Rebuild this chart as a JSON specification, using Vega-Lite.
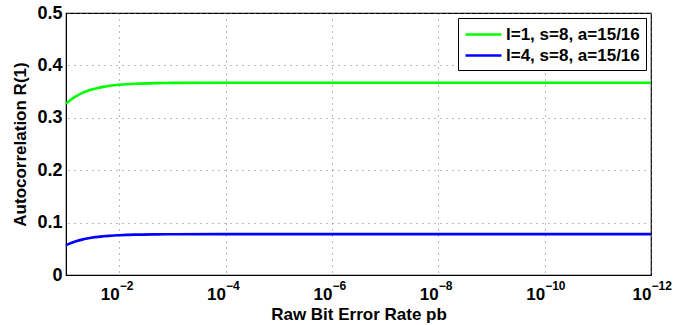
{
  "$schema": "https://vega.github.io/schema/vega-lite/v6.json",
  "width": 585,
  "height": 262,
  "autosize": {"type": "none"},
  "padding": {"left": 66, "top": 13, "right": 46, "bottom": 50},
  "background": "white",
  "config": {
    "view": {"stroke": "black", "strokeWidth": 1.2},
    "font": "Liberation Sans"
  },
  "data": {
    "values": [
      {"p": 0.1, "R": 0.327, "s": "l=1, s=8, a=15/16"},
      {"p": 0.08, "R": 0.335, "s": "l=1, s=8, a=15/16"},
      {"p": 0.063, "R": 0.3418, "s": "l=1, s=8, a=15/16"},
      {"p": 0.05, "R": 0.347, "s": "l=1, s=8, a=15/16"},
      {"p": 0.04, "R": 0.351, "s": "l=1, s=8, a=15/16"},
      {"p": 0.0316, "R": 0.3544, "s": "l=1, s=8, a=15/16"},
      {"p": 0.025, "R": 0.357, "s": "l=1, s=8, a=15/16"},
      {"p": 0.02, "R": 0.359, "s": "l=1, s=8, a=15/16"},
      {"p": 0.0158, "R": 0.3607, "s": "l=1, s=8, a=15/16"},
      {"p": 0.0126, "R": 0.362, "s": "l=1, s=8, a=15/16"},
      {"p": 0.01, "R": 0.363, "s": "l=1, s=8, a=15/16"},
      {"p": 0.005, "R": 0.365, "s": "l=1, s=8, a=15/16"},
      {"p": 0.002, "R": 0.3662, "s": "l=1, s=8, a=15/16"},
      {"p": 0.001, "R": 0.3666, "s": "l=1, s=8, a=15/16"},
      {"p": 0.0001, "R": 0.367, "s": "l=1, s=8, a=15/16"},
      {"p": 1e-6, "R": 0.367, "s": "l=1, s=8, a=15/16"},
      {"p": 1e-8, "R": 0.367, "s": "l=1, s=8, a=15/16"},
      {"p": 1e-10, "R": 0.367, "s": "l=1, s=8, a=15/16"},
      {"p": 1e-12, "R": 0.367, "s": "l=1, s=8, a=15/16"},
      {"p": 0.1, "R": 0.057, "s": "l=4, s=8, a=15/16"},
      {"p": 0.08, "R": 0.0612, "s": "l=4, s=8, a=15/16"},
      {"p": 0.063, "R": 0.0648, "s": "l=4, s=8, a=15/16"},
      {"p": 0.05, "R": 0.0675, "s": "l=4, s=8, a=15/16"},
      {"p": 0.04, "R": 0.0696, "s": "l=4, s=8, a=15/16"},
      {"p": 0.0316, "R": 0.0714, "s": "l=4, s=8, a=15/16"},
      {"p": 0.025, "R": 0.0728, "s": "l=4, s=8, a=15/16"},
      {"p": 0.02, "R": 0.0738, "s": "l=4, s=8, a=15/16"},
      {"p": 0.0158, "R": 0.0747, "s": "l=4, s=8, a=15/16"},
      {"p": 0.0126, "R": 0.0754, "s": "l=4, s=8, a=15/16"},
      {"p": 0.01, "R": 0.0759, "s": "l=4, s=8, a=15/16"},
      {"p": 0.005, "R": 0.077, "s": "l=4, s=8, a=15/16"},
      {"p": 0.002, "R": 0.0776, "s": "l=4, s=8, a=15/16"},
      {"p": 0.001, "R": 0.0778, "s": "l=4, s=8, a=15/16"},
      {"p": 0.0001, "R": 0.078, "s": "l=4, s=8, a=15/16"},
      {"p": 1e-6, "R": 0.078, "s": "l=4, s=8, a=15/16"},
      {"p": 1e-8, "R": 0.078, "s": "l=4, s=8, a=15/16"},
      {"p": 1e-10, "R": 0.078, "s": "l=4, s=8, a=15/16"},
      {"p": 1e-12, "R": 0.078, "s": "l=4, s=8, a=15/16"}
    ]
  },
  "resolve": {"axis": {"x": "independent"}},
  "layer": [
    {
      "mark": {"type": "line", "strokeWidth": 2.6, "interpolate": "monotone"},
      "encoding": {
        "x": {
          "field": "p",
          "type": "quantitative",
          "scale": {"type": "log", "domain": [1e-12, 0.1], "reverse": true, "nice": false},
          "axis": {
            "orient": "bottom",
            "title": "Raw Bit Error Rate  pb",
            "titleFont": "Liberation Sans",
            "titleFontSize": 17,
            "titleFontWeight": "bold",
            "titleColor": "black",
            "titlePadding": 4,
            "values": [0.01, 0.0001, 1e-6, 1e-8, 1e-10, 1e-12],
            "labelExpr": "'10'",
            "labelFont": "Liberation Sans",
            "labelFontSize": 17,
            "labelFontWeight": "bold",
            "labelColor": "black",
            "labelAlign": "right",
            "labelPadding": 11,
            "labelDx": 2,
            "labelFlush": false,
            "labelOverlap": false,
            "ticks": false,
            "domainColor": "black",
            "grid": true,
            "gridColor": "#777777",
            "gridDash": [1, 5],
            "gridWidth": 1
          }
        },
        "y": {
          "field": "R",
          "type": "quantitative",
          "scale": {"domain": [0, 0.5], "nice": false},
          "axis": {
            "title": "Autocorrelation  R(1)",
            "titleFont": "Liberation Sans",
            "titleFontSize": 17,
            "titleFontWeight": "bold",
            "titleColor": "black",
            "titlePadding": 7,
            "values": [0, 0.1, 0.2, 0.3, 0.4, 0.5],
            "labelExpr": "datum.value == 0 ? '0' : format(datum.value, '.1f')",
            "labelFont": "Liberation Sans",
            "labelFontSize": 18,
            "labelFontWeight": "bold",
            "labelColor": "black",
            "labelPadding": 4,
            "labelFlush": false,
            "ticks": false,
            "domainColor": "black",
            "grid": true,
            "gridColor": "#777777",
            "gridDash": [1, 5],
            "gridWidth": 1
          }
        },
        "color": {
          "field": "s",
          "type": "nominal",
          "scale": {"domain": ["l=1, s=8, a=15/16", "l=4, s=8, a=15/16"], "range": ["#00FF00", "#0000FF"]},
          "legend": {
            "title": null,
            "orient": "top-right",
            "offset": 5,
            "fillColor": "white",
            "strokeColor": "black",
            "padding": 6,
            "symbolType": "M-1,0H3",
            "symbolSize": 324,
            "symbolStrokeWidth": 2.6,
            "symbolFillColor": "transparent",
            "labelOffset": 21,
            "labelFont": "Liberation Sans",
            "labelFontSize": 17,
            "labelFontWeight": "bold",
            "labelColor": "black",
            "rowPadding": 2,
            "labelLimit": 300
          }
        }
      }
    },
    {
      "mark": {"type": "point", "opacity": 0},
      "encoding": {
        "x": {
          "field": "p",
          "type": "quantitative",
          "scale": {"type": "log", "domain": [1e-12, 0.1], "reverse": true, "nice": false},
          "axis": {
            "orient": "bottom",
            "title": null,
            "values": [0.01, 0.0001, 1e-6, 1e-8, 1e-10, 1e-12],
            "labelExpr": "datum.value > 0.005 ? '−2' : datum.value > 5e-5 ? '−4' : datum.value > 5e-7 ? '−6' : datum.value > 5e-9 ? '−8' : datum.value > 5e-11 ? '−10' : '−12'",
            "labelFont": "Liberation Sans",
            "labelFontSize": 12,
            "labelFontWeight": "bold",
            "labelColor": "black",
            "labelAlign": "left",
            "labelPadding": 5,
            "labelDx": 3,
            "labelDy": -2,
            "labelFlush": false,
            "labelOverlap": false,
            "ticks": false,
            "domain": false,
            "grid": false
          }
        }
      }
    }
  ]
}
